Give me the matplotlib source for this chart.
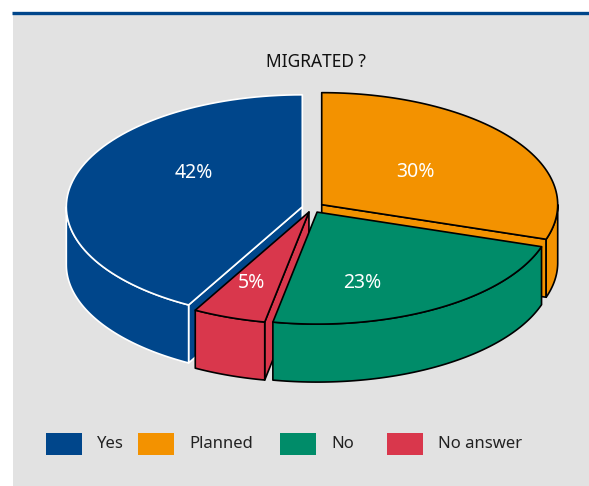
import numpy as np
import matplotlib.pyplot as plt
from matplotlib.patches import Polygon, Rectangle

plt.rcParams['font.family'] = ['Noto Sans', 'DejaVu Sans']

# survey answers
labels = ["Yes", "Planned", "No", "No answer"]
shares = [42, 30, 23, 5]
colors = ["#00468b", "#f39200", "#008c69", "#d9374c"]
edges = ["white", "black", "black", "black"]
explode = [10, 12, 10, 9]          # pixels along each slice's bisector

# pie geometry (figure pixels, y pointing down)
cx, cy = 312, 208
rx, ry = 236, 112
depth = 58

fig = plt.figure(figsize=(5.89, 4.86), dpi=100)
ax = fig.add_axes([0, 0, 1, 1])
ax.set_xlim(0, 589)
ax.set_ylim(486, 0)
ax.axis("off")

# grey panel with the blue rule on top
ax.add_patch(Rectangle((13, 14), 576, 472, facecolor="#e2e2e2", edgecolor="none"))
ax.plot([12, 589], [13, 13], color="#00468b", lw=2.4, solid_capstyle="butt")

ax.text(316, 62, "MIGRATED ?", ha="center", va="center", fontsize=12.5, color="#111111")

# angles: clockwise from 12 o'clock in the order Planned, No, No answer, Yes
# stored as counter-clockwise spans (start, end) in degrees
order_cw = [1, 2, 3, 0]
spans = {}
ang = 90.0
for i in order_cw:
    sweep = shares[i] / sum(shares) * 360
    spans[i] = (ang - sweep, ang)
    ang -= sweep
# Yes sits just left of 12 o'clock, so shift it to the 90..241 range
spans[0] = (spans[0][0] + 360, spans[0][1] + 360) if spans[0][1] < 90 else spans[0]


def pt(ox, oy, t, dz=0):
    r = np.radians(t)
    return cx + ox + rx * np.cos(r), cy + oy - ry * np.sin(r) + dz


def arc(ox, oy, t1, t2, dz=0, n=80):
    ts = np.linspace(t1, t2, n)
    return [pt(ox, oy, t, dz) for t in ts]


def draw_slice(i):
    t1, t2 = spans[i]
    t1, t2 = min(t1, t2), max(t1, t2)
    mid = np.radians((t1 + t2) / 2)
    ox = explode[i] * np.cos(mid)
    oy = -explode[i] * (ry / rx) * np.sin(mid)
    apex = (cx + ox, cy + oy)
    apex_b = (cx + ox, cy + oy + depth)
    kw = dict(facecolor=colors[i], edgecolor=edges[i], lw=1.2, joinstyle="round")

    # cut faces that face the viewer
    for t, vis in ((t1, np.cos(np.radians(t1)) > 1e-6), (t2, np.cos(np.radians(t2)) < -1e-6)):
        if vis:
            p, pb = pt(ox, oy, t), pt(ox, oy, t, depth)
            ax.add_patch(Polygon([apex, p, pb, apex_b], closed=True, **kw))

    # front part of the outer wall
    for lo, hi in ((180, 360), (540, 720), (-180, 0)):
        a, b = max(t1, lo), min(t2, hi)
        if b > a:
            top = arc(ox, oy, a, b)
            bot = arc(ox, oy, a, b, depth)[::-1]
            ax.add_patch(Polygon(top + bot, closed=True, **kw))

    # top face
    ax.add_patch(Polygon([apex] + arc(ox, oy, t1, t2), closed=True, **kw))
    return apex


# where the percentage sits on each top face: (radius fraction, angle)
label_at = [(0.55, 147), (0.49, 36), (0.66, -73), (0.68, -111)]

apexes = {}
for i in [1, 0, 3, 2]:
    apexes[i] = draw_slice(i)

for i in range(len(shares)):
    r, t = label_at[i]
    ax_, ay_ = apexes[i]
    x = ax_ + r * rx * np.cos(np.radians(t))
    y = ay_ - r * ry * np.sin(np.radians(t))
    ax.text(x, y, f"{shares[i]}%", ha="center", va="center", fontsize=14, color="white")

# legend row
legend_x = [46, 138, 280, 387]
for i in range(len(labels)):
    ax.add_patch(Rectangle((legend_x[i], 433), 36, 22, facecolor=colors[i], edgecolor="none"))
    ax.text(legend_x[i] + 51, 444, labels[i], ha="left", va="center", fontsize=12, color="#222222")

fig.savefig("out.png", dpi=100)
